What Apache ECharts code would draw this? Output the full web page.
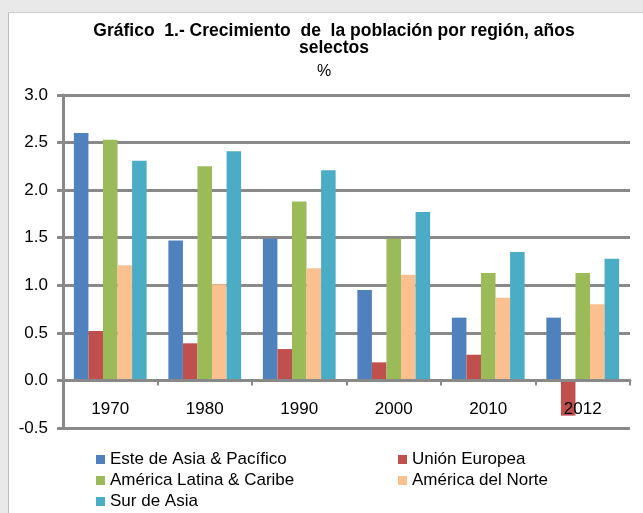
<!DOCTYPE html>
<html>
<head>
<meta charset="utf-8">
<script src="https://cdn.jsdelivr.net/npm/echarts@6/dist/echarts.min.js"></script>
<style>
  html, body { margin: 0; padding: 0; background: #ffffff; }
  #frame { position: relative; width: 643px; height: 513px; background: #e9e9e9; overflow: hidden; }
  #chartBar {
    position: absolute; left: 8px; top: 12px; width: 635px; height: 501px;
    background: #ffffff; border-left: 1px solid #bdbdbd; border-top: 1px solid #d0d0d0;
  }
</style>
</head>
<body>
<div id="frame"><div id="chartBar"></div></div>
<script>
// datos
const years = ['1970', '1980', '1990', '2000', '2010', '2012']
const esteAsia = [2.60, 1.47, 1.49, 0.95, 0.66, 0.66]
const unionEuropea = [0.52, 0.39, 0.33, 0.19, 0.27, -0.37]
const americaLatina = [2.53, 2.25, 1.88, 1.49, 1.13, 1.13]
const americaNorte = [1.21, 1.01, 1.18, 1.11, 0.87, 0.80]
const surAsia = [2.31, 2.41, 2.21, 1.77, 1.35, 1.28]
const yTicks = [-0.5, 0.0, 0.5, 1.0, 1.5, 2.0, 2.5, 3.0]

const names = ['Este de Asia & Pacífico', 'Unión Europea', 'América Latina & Caribe', 'América del Norte', 'Sur de Asia']
const colors = ['#4F81BD', '#C0504D', '#9BBB59', '#FAC090', '#4BACC6']
const values = [esteAsia, unionEuropea, americaLatina, americaNorte, surAsia]

const font = 'Liberation Sans, Arial, sans-serif'
const gray = '#898989'

const legendBase = {
  orient: 'vertical',
  icon: 'rect',
  itemWidth: 9,
  itemHeight: 9,
  itemGap: 0,
  top: 436,
  height: 64,
  padding: 0,
  textStyle: { fontFamily: font, fontSize: 17, lineHeight: 21, color: '#000' }
}

const option = {
  animation: false,
  color: colors,
  title: [
    {
      text: 'Gráfico  1.- Crecimiento  de  la población por región, años\nselectos',
      left: 320,
      top: 5,
      textAlign: 'center',
      textStyle: { fontFamily: font, fontSize: 17.5, fontWeight: 'bold', lineHeight: 17, color: '#000' }
    },
    {
      text: '%',
      left: 310,
      top: 46,
      textAlign: 'center',
      textStyle: { fontFamily: font, fontSize: 16, fontWeight: 'normal', color: '#000' }
    }
  ],
  legend: [
    Object.assign({}, legendBase, { left: 87, data: [names[0], names[2], names[4]] }),
    Object.assign({}, legendBase, { left: 389, data: [names[1], names[3]] })
  ],
  grid: { left: 54, right: 14, top: 82, bottom: 86 },
  xAxis: {
    type: 'category',
    data: years,
    z: 3,
    axisLine: { onZero: true, lineStyle: { color: gray, width: 3 } },
    axisTick: { show: true, length: 5, lineStyle: { color: gray, width: 2 } },
    axisLabel: { margin: -27, fontFamily: font, fontSize: 17, color: '#000' }
  },
  yAxis: {
    type: 'value',
    min: yTicks[0],
    max: yTicks[yTicks.length - 1],
    interval: 0.5,
    axisLine: { show: true, lineStyle: { color: gray, width: 3 } },
    axisTick: { show: true, length: 6, lineStyle: { color: gray, width: 3 } },
    splitLine: { lineStyle: { color: gray, width: 3 } },
    axisLabel: {
      margin: 15,
      fontFamily: font,
      fontSize: 17,
      color: '#000',
      formatter: v => v.toFixed(1)
    }
  },
  series: names.map((n, i) => ({
    name: n,
    type: 'bar',
    data: values[i],
    barGap: '0%',
    barCategoryGap: '23%',
    itemStyle: { color: colors[i] }
  }))
}

const myChart = echarts.init(document.getElementById('chartBar'))
myChart.setOption(option)
</script>
</body>
</html>
